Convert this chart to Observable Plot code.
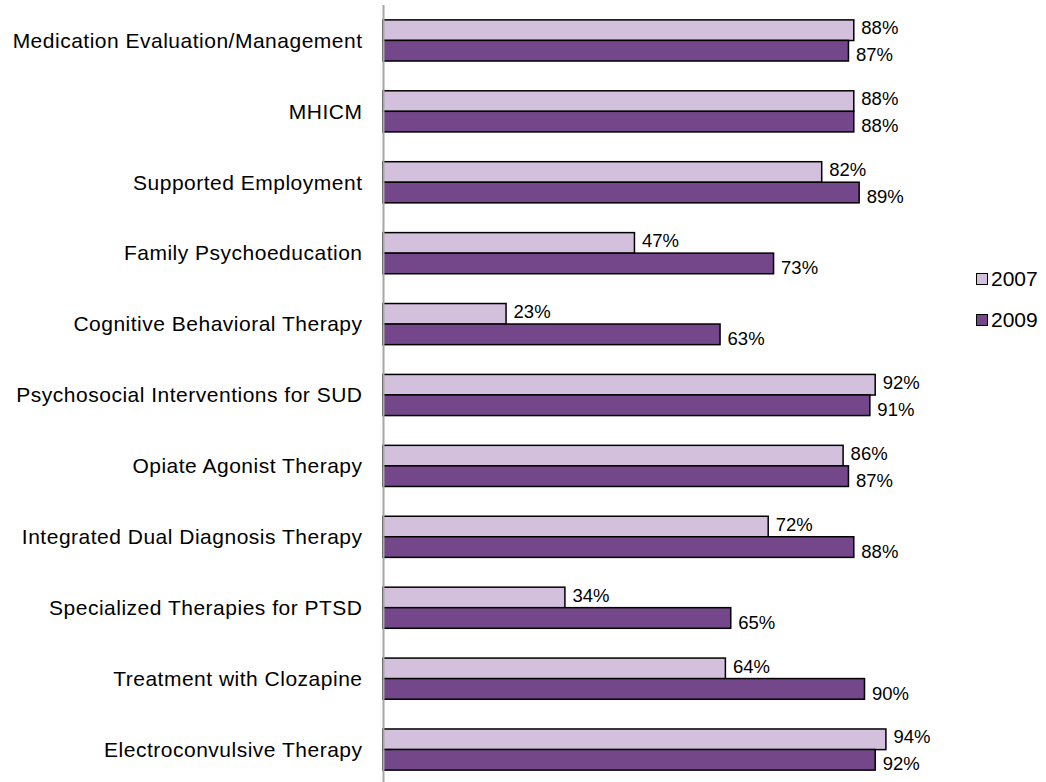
<!DOCTYPE html>
<html>
<head>
<meta charset="utf-8">
<script src="https://cdn.jsdelivr.net/npm/d3@7"></script>
<script src="https://cdn.jsdelivr.net/npm/@observablehq/plot@0.6"></script>
<style>
  html, body { margin: 0; padding: 0; background: #fff; }
  #wrap { position: relative; width: 1046px; height: 782px; font-family: "Liberation Sans", Arial, sans-serif; }
  .leg { position: absolute; left: 976px; display: flex; align-items: center; font-size: 21px; color: #000; }
  .sw { width: 10px; height: 10px; border: 1px solid #000; margin-right: 3px; }
  .ylab text { letter-spacing: 0.5px; }
</style>
</head>
<body>
<div id="wrap"></div>
<script>
const categories = [
  "Medication Evaluation/Management",
  "MHICM",
  "Supported Employment",
  "Family Psychoeducation",
  "Cognitive Behavioral Therapy",
  "Psychosocial Interventions for SUD",
  "Opiate Agonist Therapy",
  "Integrated Dual Diagnosis Therapy",
  "Specialized Therapies for PTSD",
  "Treatment with Clozapine",
  "Electroconvulsive Therapy"
];
const values2007 = [88, 88, 82, 47, 23, 92, 86, 72, 34, 64, 94];
const values2009 = [87, 88, 89, 73, 63, 91, 87, 88, 65, 90, 92];
const years = ["2007", "2009"];
const colors = ["#D3C0DC", "#734789"];

const d2007 = categories.map((c, i) => ({category: c, year: "2007", value: values2007[i]}));
const d2009 = categories.map((c, i) => ({category: c, year: "2009", value: values2009[i]}));

const half = 20.5;

const chart = Plot.plot({
  width: 1046,
  height: 782,
  marginLeft: 383,
  marginRight: 128,
  marginTop: 5,
  marginBottom: 0,
  style: {fontFamily: "'Liberation Sans', Arial, sans-serif", color: "#000", background: "#fff"},
  x: {domain: [0, 100], axis: null},
  y: {domain: categories, range: [5, 785], paddingInner: 0.42, paddingOuter: 0.21, round: false, axis: null},
  color: {domain: years, range: colors},
  marks: [
    Plot.barX(d2007, {x: "value", y: "category", fill: "year", stroke: "#000", strokeWidth: 1.5, insetBottom: half}),
    Plot.barX(d2009, {x: "value", y: "category", fill: "year", stroke: "#000", strokeWidth: 1.5, insetTop: half}),
    Plot.ruleX([0], {stroke: "#A6A6A6", strokeWidth: 2}),
    Plot.axisY({tickSize: 0, tickPadding: 21, fontSize: 21, label: null, className: "ylab"}),
    Plot.text(d2007, {x: "value", y: "category", text: d => d.value + "%", textAnchor: "start", dx: 7, dy: -12.5, fontSize: 18.5, fill: "#000"}),
    Plot.text(d2009, {x: "value", y: "category", text: d => d.value + "%", textAnchor: "start", dx: 7, dy: 14.5, fontSize: 18.5, fill: "#000"})
  ]
});

const wrap = document.getElementById("wrap");
wrap.appendChild(chart);
const legendTops = [267, 308];
years.forEach((y, i) => {
  const el = document.createElement("div");
  el.className = "leg";
  el.style.top = legendTops[i] + "px";
  const sw = document.createElement("div");
  sw.className = "sw";
  sw.style.background = colors[i];
  el.appendChild(sw);
  const t = document.createElement("span");
  t.textContent = y;
  el.appendChild(t);
  wrap.appendChild(el);
});
</script>
</body>
</html>
